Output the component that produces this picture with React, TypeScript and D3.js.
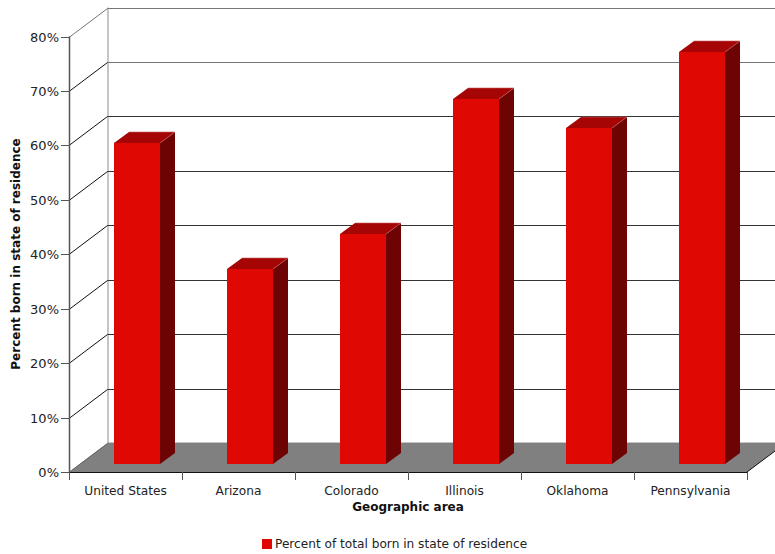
import React from "react";
import * as d3 from "d3";

const categories = ["United States", "Arizona", "Colorado", "Illinois", "Oklahoma", "Pennsylvania"];
const percentBorn = [58.9, 35.7, 42.2, 67, 61.7, 75.6];
const yTicks = [0, 10, 20, 30, 40, 50, 60, 70, 80];

const W = 775, H = 554;
const left = 69, right = 747, floorY = 472, topY = 36.5;
const depthX = 38.5, depthY = -29;
const barDepthX = 15, barDepthY = -11;
const barLift = -8.5;
const barWidth = 46;
const barShift = 11.5;
const font = "Verdana, 'DejaVu Sans', sans-serif";

const x = d3.scaleBand<string>().domain(categories).range([left, right]);
const y = d3.scaleLinear().domain([0, 80]).range([floorY, topY]);

const pts = (p: [number, number][]) => p.map((q) => q.join(",")).join(" ");

export default function App() {
  const tickXs = [...categories.map((c) => x(c) as number), right];
  return (
    <svg width={W} height={H} style={{ position: "absolute", left: 0, top: 0, background: "#fff" }} fontFamily={font}>
      {/* floor */}
      <polygon
        points={pts([[left, floorY], [left + depthX, floorY + depthY], [right + depthX, floorY + depthY], [right, floorY]])}
        fill="#808080"
      />
      <line x1={left + depthX} x2={W} y1={floorY + depthY - 0.5} y2={floorY + depthY - 0.5} stroke="#c4c4c4" />

      {/* back wall edge and depth grid */}
      <line x1={left + depthX + 0.5} x2={left + depthX + 0.5} y1={topY + depthY} y2={floorY + depthY} stroke="#8c8c8c" />
      {yTicks.map((t) => {
        const yy = Math.round(y(t)) + 0.5;
        const backY = Math.round(y(t) + depthY) + 0.5;
        const lineColor = t === 80 || t === 70 ? "#777" : "#333";
        return (
          <g key={t}>
            {t > 0 && <line x1={left + depthX} x2={W} y1={backY} y2={backY} stroke={lineColor} />}
            <line x1={left} y1={yy} x2={left + depthX} y2={backY} stroke={t === 80 ? "#777" : t === 0 ? "#666" : "#111"} />
            <line x1={left - 8} x2={left} y1={yy} y2={yy} stroke="#555" />
            <text x={left - 10} y={yy + 4.5} textAnchor="end" fontSize={13} fill="#222">{t}%</text>
          </g>
        );
      })}

      {/* bars */}
      {categories.map((c, i) => {
        const x0 = (x(c) as number) + (x.bandwidth() - barWidth) / 2 + barShift;
        const x1 = x0 + barWidth;
        const base = Math.round(floorY + barLift);
        const top = Math.round(y(percentBorn[i]) + barLift);
        return (
          <g key={c}>
            <polygon
              points={pts([[x0, top], [x0 + barDepthX, top + barDepthY], [x1 + barDepthX, top + barDepthY], [x1, top]])}
              fill="#a50505"
            />
            <polygon
              points={pts([[x1, top], [x1 + barDepthX, top + barDepthY], [x1 + barDepthX, base + barDepthY], [x1, base]])}
              fill="#6e0303"
            />
            <polyline
              points={pts([[x0 + barDepthX, top + barDepthY], [x1 + barDepthX, top + barDepthY], [x1, top]])}
              fill="none"
              stroke="#c86060"
              strokeWidth={0.6}
            />
            <rect x={x0} y={top} width={barWidth} height={base - top} fill="#e00803" />
          </g>
        );
      })}

      {/* axes */}
      <line x1={left + 0.5} x2={left + 0.5} y1={topY} y2={floorY} stroke="#555" strokeWidth={1.5} />
      <line x1={left} x2={right} y1={floorY + 0.5} y2={floorY + 0.5} stroke="#111" />
      <line x1={right} y1={floorY} x2={W} y2={floorY - 21} stroke="#111" />
      {tickXs.map((tx) => (
        <line key={tx} x1={tx + 0.5} x2={tx + 0.5} y1={floorY} y2={floorY + 8} stroke="#555" />
      ))}
      {categories.map((c) => (
        <text key={c} x={(x(c) as number) + x.bandwidth() / 2} y={495} textAnchor="middle" fontSize={12.2} fill="#222">{c}</text>
      ))}

      <text x={408} y={511} textAnchor="middle" fontSize={12} fontWeight="bold" fill="#111">Geographic area</text>
      <text transform="translate(20,254) rotate(-90)" textAnchor="middle" fontSize={12} fontWeight="bold" fill="#111">Percent born in state of residence</text>

      {/* legend */}
      <rect x={262} y={539} width={10} height={10} fill="#e00803" />
      <text x={275} y={548} fontSize={12.15} fill="#222">Percent of total born in state of residence</text>
    </svg>
  );
}
